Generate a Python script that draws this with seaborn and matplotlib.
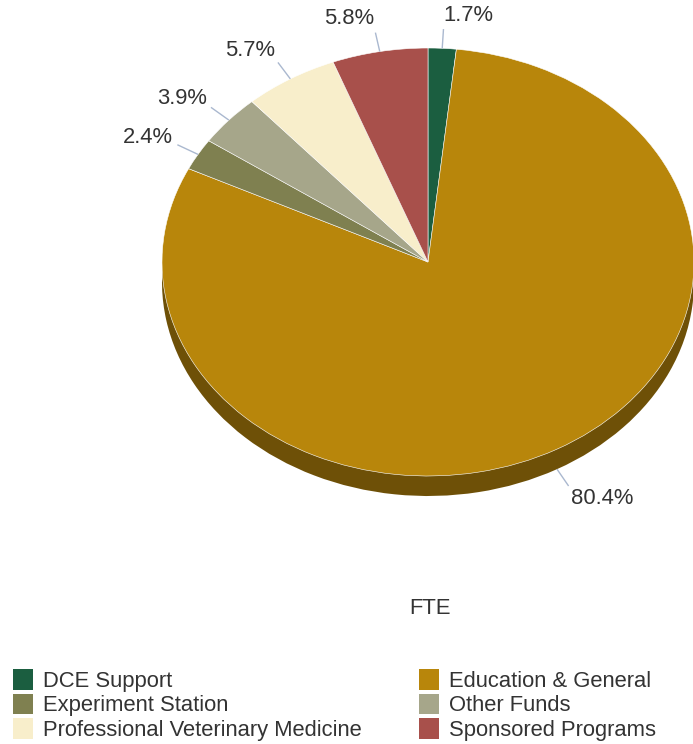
import numpy as np
import matplotlib
matplotlib.use('Agg')
import matplotlib.pyplot as plt
import matplotlib.patches as mpatches
import seaborn as sns

categories = ['DCE Support', 'Education & General', 'Experiment Station',
              'Other Funds', 'Professional Veterinary Medicine', 'Sponsored Programs']
shares = [1.7, 80.4, 2.4, 3.9, 5.7, 5.8]
labels = ['1.7%', '80.4%', '2.4%', '3.9%', '5.7%', '5.8%']
colors = ['#1b5e40', '#b8860b', '#7f8050', '#a6a68a', '#f8eecb', '#a8504b']
title = 'FTE'

sns.set_theme(style='white')
plt.rcParams['font.family'] = ['Liberation Sans', 'DejaVu Sans']

W, H = 693, 744
cx, cy, rx, ry, depth = 428, 262, 266, 214, 20   # pixel geometry of the pie face
fs = 15.8

fig = plt.figure(figsize=(W / 100, H / 100), dpi=100)
ax = fig.add_axes([0, 0, 1, 1])

palette = sns.color_palette(colors)
shadow = [tuple(c * 0.6 for c in col) for col in palette]

# side of the pie: same pie, darker, shifted down
ax.pie(shares, colors=shadow, startangle=90, counterclock=False,
       center=(0, -depth / ry), radius=1,
       wedgeprops=dict(linewidth=0))
ax.pie(shares, colors=palette, startangle=90, counterclock=False,
       center=(0, 0), radius=1,
       wedgeprops=dict(linewidth=0.4, edgecolor='white'))

ax.set_aspect('auto')
ax.set_xlim(-cx / rx, (W - cx) / rx)
ax.set_ylim(-(H - cy) / ry, cy / ry)
ax.axis('off')

# percentage labels with connectors
total = sum(shares)
cum = np.cumsum(shares)
for v, c, lab in zip(shares, cum, labels):
    ang = np.deg2rad(90 - 360 * (c - v / 2) / total)
    ca, sa = np.cos(ang), np.sin(ang)
    off = -depth / ry if sa < 0 else 0
    x0, y0 = ca, sa + off
    x1, y1 = 1.09 * ca, 1.09 * sa + off
    ax.plot([x0, x1], [y0, y1], color='#aab8cf', lw=1, solid_capstyle='butt')
    ax.text(x1 + 5 / rx * ca, y1 + 14 / ry * sa, lab, fontsize=fs,
            color='#333333', ha='left' if ca > 0 else 'right', va='center')

fig.text(430 / W, 1 - 609 / H, title, fontsize=fs, color='#333333',
         ha='center', va='center')

handles = [mpatches.Patch(facecolor=col, edgecolor='none', label=cat)
           for cat, col in zip(categories, palette)]
for idx, xpos in ((slice(0, None, 2), 13), (slice(1, None, 2), 419)):
    leg = fig.legend(handles=handles[idx], loc='upper left',
                     bbox_to_anchor=(xpos / W, 1 - 669 / H),
                     frameon=False, fontsize=fs, borderpad=0, borderaxespad=0,
                     handlelength=0.92, handleheight=1.08, handletextpad=0.45,
                     labelspacing=0.08, labelcolor='#333333')

fig.savefig('out.png', dpi=100)
